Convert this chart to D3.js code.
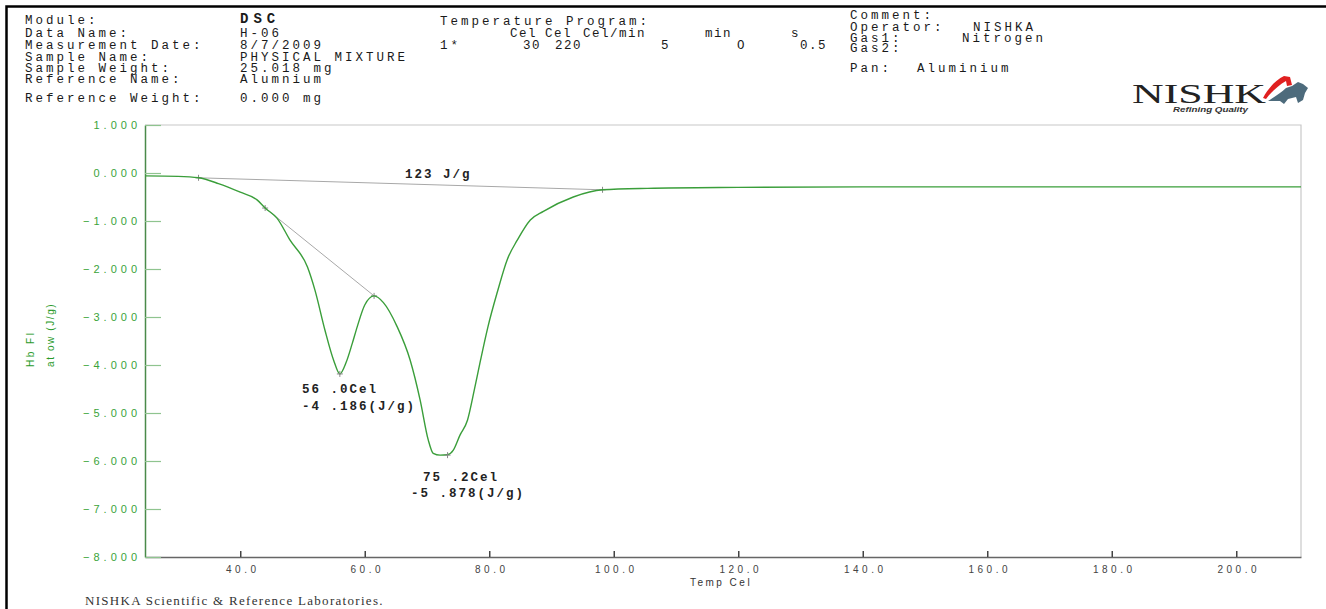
<!DOCTYPE html>
<html>
<head>
<meta charset="utf-8">
<script src="https://cdn.jsdelivr.net/npm/d3@7"></script>
<style>
  body { margin: 0; background: #fff; }
  svg { display: block; }
  .hdr { font-family: "Liberation Mono", "DejaVu Sans Mono", monospace; font-size: 12.5px; fill: #1a1a1a; letter-spacing: 3px; }
  .hdr.tight { letter-spacing: 1.5px; }
  .ann { font-family: "Liberation Mono", monospace; font-size: 12.5px; font-weight: bold; fill: #222; letter-spacing: 2px; }
  .y-axis text { font-family: "Liberation Sans", Arial, sans-serif; font-size: 11px; fill: #3aa33a; letter-spacing: 4px; }
  .x-axis text { font-family: "Liberation Sans", Arial, sans-serif; font-size: 10px; fill: #444; letter-spacing: 3.5px; }
</style>
</head>
<body>
<div id="chart"></div>
<script>
// DSC trace
var tempC = [24.7, 30.0, 33.3, 36.5, 40.0, 42.7, 44.0, 45.9, 48.0, 50.8, 52.0, 53.6, 55.0, 56.0, 57.0, 58.0,
  58.8, 60.0, 61.5, 63.0, 65.2, 67.3, 68.9, 70.2, 71.0, 72.1, 73.3, 74.2, 75.3, 76.5, 77.6, 78.6,
  79.8, 81.3, 82.9, 84.5, 86.6, 88.7, 93.5, 98.2, 105.4, 120, 140, 160, 180, 200, 210.4];
var heatFlow = [-0.06, -0.07, -0.10, -0.22, -0.40, -0.56, -0.73, -0.94, -1.40, -1.96, -2.44, -3.27, -3.90, -4.186, -3.95, -3.55,
  -3.20, -2.75, -2.56, -2.70, -3.20, -3.90, -4.73, -5.56, -5.84, -5.878, -5.87, -5.78, -5.46, -5.15, -4.52, -3.90,
  -3.20, -2.48, -1.80, -1.40, -0.98, -0.80, -0.50, -0.35, -0.32, -0.30, -0.29, -0.29, -0.29, -0.29, -0.29];

// integration baseline (123 J/g) and tangent line
var baseT = [33.3, 98.2];
var baseV = [-0.10, -0.35];
var tangT = [44.0, 61.5];
var tangV = [-0.73, -2.56];

var xTicks = [40, 60, 80, 100, 120, 140, 160, 180, 200];
var yTicks = [1, 0, -1, -2, -3, -4, -5, -6, -7, -8];

var width = 1326, height = 609;
var plotL = 145, plotR = 1301, plotT = 125, plotB = 557;

var svg = d3.select("#chart").append("svg")
  .attr("width", width)
  .attr("height", height);

// outer frame
svg.append("path")
  .attr("d", "M6.5,609 L6.5,6.5 L1326,6.5")
  .attr("fill", "none")
  .attr("stroke", "#000")
  .attr("stroke-width", 2.5);

// header block
var hdrLeft = [
  ["Module:", 24], ["Data  Name:", 37], ["Measurement  Date:", 49], ["Sample  Name:", 61],
  ["Sample  Weight:", 72], ["Reference  Name:", 83], ["Reference  Weight:", 102]
];
var hdrVals = [
  ["H-06", 37], ["8/7/2009", 49], ["PHYSICAL MIXTURE", 61],
  ["25.018  mg", 72], ["Alumnium", 83], ["0.000  mg", 102]
];
hdrLeft.forEach(function (d) {
  svg.append("text").attr("class", "hdr").attr("x", 25).attr("y", d[1]).text(d[0]);
});
hdrVals.forEach(function (d) {
  svg.append("text").attr("class", "hdr").attr("x", 240).attr("y", d[1]).text(d[0]);
});
svg.append("text").attr("class", "hdr").attr("x", 240).attr("y", 23)
  .style("font-weight", "bold").style("font-size", "14px").style("letter-spacing", "5px").text("DSC");

var prog = [
  ["Temperature  Program:", 440, 25], ["1*", 440, 49]
];
prog.forEach(function (d) {
  svg.append("text").attr("class", "hdr").attr("x", d[1]).attr("y", d[2]).text(d[0]);
});
var progCols = [
  ["Cel", 510, 37], ["Cel", 545, 37], ["Cel/min", 583, 37], ["min", 705, 37], ["s", 791, 37],
  ["30", 523, 49], ["220", 555, 49], ["5", 661, 49], ["O", 737, 49], ["0.5", 800, 49]
];
progCols.forEach(function (d) {
  svg.append("text").attr("class", "hdr tight").attr("x", d[1]).attr("y", d[2]).text(d[0]);
});

var rightHdr = [
  ["Comment:", 850, 19], ["Operator:", 850, 31], ["NISHKA", 973, 31], ["Gas1:", 850, 42],
  ["Nitrogen", 962, 42], ["Gas2:", 850, 52], ["Pan:", 850, 72], ["Aluminium", 917, 72]
];
rightHdr.forEach(function (d) {
  svg.append("text").attr("class", "hdr").attr("x", d[1]).attr("y", d[2]).text(d[0]);
});

// logo
var logo = svg.append("g");
logo.append("text")
  .attr("x", 1132).attr("y", 103)
  .attr("textLength", 134).attr("lengthAdjust", "spacingAndGlyphs")
  .style("font-family", "Liberation Serif, serif").style("font-size", "27px").style("fill", "#222")
  .text("NISHK");
logo.append("path")
  .attr("d", "M1268,101 C1276,96 1282,92 1286,88 L1292,86 L1298,82 L1303,84 L1308,88 L1305,93 L1303,100 L1298,103 L1296,97 L1288,99 L1284,104 L1280,101 Z")
  .attr("fill", "#4d6b7c");
logo.append("path")
  .attr("d", "M1263,98 C1268,88 1276,80 1284,76 L1290,77 L1292,85 L1287,86 L1286,81 C1279,85 1272,91 1266,99 Z")
  .attr("fill", "#e02020");
logo.append("text")
  .attr("x", 1173).attr("y", 112)
  .attr("textLength", 75).attr("lengthAdjust", "spacingAndGlyphs")
  .style("font-family", "Liberation Sans, sans-serif").style("font-size", "7px")
  .style("font-style", "italic").style("font-weight", "bold").style("fill", "#333")
  .text("Refining Quality");

// scales
var x = d3.scaleLinear().domain([24.7, 210.4]).range([plotL, plotR]);
var y = d3.scaleLinear().domain([1, -8]).range([plotT, plotB]);

// plot frame (top, right)
svg.append("path")
  .attr("d", "M" + plotL + "," + plotT + " L" + plotR + "," + plotT + " L" + plotR + "," + plotB)
  .attr("fill", "none")
  .attr("stroke", "#c8c8c8")
  .attr("stroke-width", 1.2);

// x axis
var xAxis = svg.append("g")
  .attr("class", "x-axis")
  .attr("transform", "translate(0," + plotB + ")")
  .call(d3.axisBottom(x).tickValues(xTicks).tickSizeInner(-6).tickSizeOuter(0).tickPadding(9)
    .tickFormat(d3.format(".1f")));
xAxis.select(".domain").attr("stroke", "#666").attr("stroke-width", 1.5);
xAxis.selectAll(".tick line").attr("stroke", "#444").attr("stroke-width", 1.5);
xAxis.selectAll(".tick text").attr("dx", "2px");

// y axis
var yAxis = svg.append("g")
  .attr("class", "y-axis")
  .attr("transform", "translate(" + plotL + ",0)")
  .call(d3.axisLeft(y).tickValues(yTicks).tickSizeInner(-16).tickSizeOuter(0).tickPadding(4)
    .tickFormat(d3.format(".3f")));
yAxis.select(".domain").attr("stroke", "#4a8a4a").attr("stroke-width", 1.5);
yAxis.selectAll(".tick line").attr("stroke", "#8fc48f").attr("stroke-width", 1.2);

// axis titles
svg.append("text")
  .attr("x", 721).attr("y", 586)
  .attr("text-anchor", "middle")
  .style("font-family", "Liberation Sans, sans-serif").style("font-size", "10px")
  .style("letter-spacing", "2.5px").style("fill", "#333")
  .text("Temp Cel");

svg.append("text")
  .attr("transform", "translate(34,367) rotate(-90)")
  .style("font-family", "Liberation Sans, sans-serif").style("font-size", "10px")
  .style("letter-spacing", "2.5px").style("fill", "#2a9a2a")
  .text("Hb  Fl");
svg.append("text")
  .attr("transform", "translate(54,367) rotate(-90)")
  .style("font-family", "Liberation Sans, sans-serif").style("font-size", "10px")
  .style("letter-spacing", "1.6px").style("fill", "#2a9a2a")
  .text("at  ow  (J/g)");

// baselines
var line2 = d3.line().x(function (d) { return x(d[0]); }).y(function (d) { return y(d[1]); });
[[baseT, baseV], [tangT, tangV]].forEach(function (b) {
  var pts = b[0].map(function (t, i) { return [t, b[1][i]]; });
  svg.append("path")
    .attr("d", line2(pts))
    .attr("fill", "none")
    .attr("stroke", "#a8a8a8")
    .attr("stroke-width", 1);
  svg.selectAll(null).data(pts).enter().append("path")
    .attr("d", function (d) {
      var px = x(d[0]), py = y(d[1]);
      return "M" + (px - 3) + "," + py + "H" + (px + 3) + "M" + px + "," + (py - 3) + "V" + (py + 3);
    })
    .attr("stroke", "#888")
    .attr("stroke-width", 1);
});

// DSC curve
var curve = tempC.map(function (t, i) { return [t, heatFlow[i]]; });
svg.append("path")
  .attr("d", d3.line().curve(d3.curveMonotoneX)
    .x(function (d) { return x(d[0]); })
    .y(function (d) { return y(d[1]); })(curve))
  .attr("fill", "none")
  .attr("stroke", "#3a9e3a")
  .attr("stroke-width", 1.4);

// peak markers
svg.selectAll(null).data([[56.0, -4.186], [73.3, -5.878]]).enter().append("path")
  .attr("d", function (d) {
    var px = x(d[0]), py = y(d[1]);
    return "M" + (px - 3) + "," + py + "H" + (px + 3) + "M" + px + "," + (py - 3) + "V" + (py + 3);
  })
  .attr("stroke", "#888")
  .attr("stroke-width", 1);

// annotations
var notes = [
  ["123  J/g", 405, 178], ["56 .0Cel", 302, 393], ["-4 .186(J/g)", 302, 410],
  ["75 .2Cel", 423, 481], ["-5 .878(J/g)", 411, 497]
];
notes.forEach(function (d) {
  svg.append("text").attr("class", "ann").attr("x", d[1]).attr("y", d[2]).text(d[0]);
});

// footer
svg.append("text")
  .attr("x", 85).attr("y", 605)
  .style("font-family", "Liberation Serif, serif").style("font-size", "13px")
  .style("letter-spacing", "1.3px").style("fill", "#333")
  .text("NISHKA Scientific & Reference Laboratories.");
</script>
</body>
</html>
